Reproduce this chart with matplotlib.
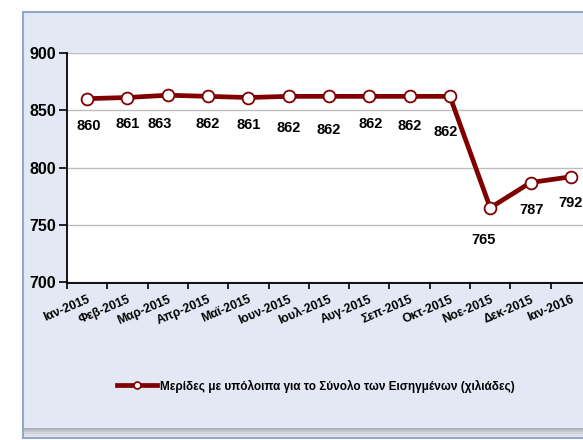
import matplotlib
matplotlib.use("Agg")
import matplotlib.pyplot as plt
from matplotlib.patches import Rectangle
from matplotlib.lines import Line2D
import numpy as np

# data
months = ['Ιαν-2015', 'Φεβ-2015', 'Μαρ-2015', 'Απρ-2015', 'Μαϊ-2015', 'Ιουν-2015',
          'Ιουλ-2015', 'Αυγ-2015', 'Σεπ-2015', 'Οκτ-2015', 'Νοε-2015', 'Δεκ-2015',
          'Ιαν-2016']
accounts = [860, 861, 863, 862, 861, 862, 862, 862, 862, 862, 765, 787, 792]
series_name = 'Μερίδες με υπόλοιπα για το Σύνολο των Εισηγμένων (χιλιάδες)'

# label nudges in points (dx, dy below marker), as placed in the original
label_nudge = [(1, 20), (0, 19), (-6, 21), (0, 20), (0, 20), (0, 23), (0, 24),
               (1, 20), (0, 21), (-3, 26), (-5, 23), (1, 20), (0, 19)]

# no Arial Narrow here, Liberation Sans bold at smaller sizes is the closest
plt.rcParams['font.family'] = ['Liberation Sans', 'DejaVu Sans']
plt.rcParams['font.weight'] = 'bold'

W, H = 583, 440
fig = plt.figure(figsize=(W / 100, H / 100), dpi=100)
fig.patch.set_facecolor('white')

def px(x, y):
    # pixel coords (top-left origin) -> figure fraction
    return x / W, 1 - y / H

# outer panel
x0, y0 = px(22.5, 438)
fig.add_artist(Rectangle((x0, y0), 1.2, (438 - 12.5) / H, transform=fig.transFigure,
                         facecolor='#E3E8F4', edgecolor='#97A7CB', lw=1.5, zorder=0))
# soft shadow along the bottom edge
for i, c in enumerate(['#DCDFE7', '#D0D3DB', '#C2C5CD', '#B0B3BB']):
    bx, by = px(24, 436 - i * 2)
    fig.add_artist(Rectangle((bx, by), 1.2, 2 / H, transform=fig.transFigure,
                             facecolor=c, edgecolor='none', zorder=0))

left, top, bottom, right = 67, 52.7, 282.5, 591
ax = fig.add_axes([left / W, 1 - bottom / H, (right - left) / W, (bottom - top) / H])
ax.set_facecolor('white')

x = np.arange(len(months))
red = '#800000'
ax.plot(x, accounts, color=red, lw=3.4, marker='o', markersize=8.5,
        markerfacecolor='white', markeredgecolor=red, markeredgewidth=1.3,
        zorder=3, clip_on=False)

for xi, v, (dx, dy) in zip(x, accounts, label_nudge):
    ax.annotate(str(v), (xi, v), xytext=(dx, -dy), textcoords='offset points',
                ha='center', va='center', fontsize=10.5, fontweight='bold')

ax.set_xlim(-0.5, len(months) - 0.5)
ax.set_ylim(700, 900)
ax.set_yticks(np.arange(700, 901, 50))
ax.yaxis.grid(True, color='#BEBEBE', lw=1)
ax.set_axisbelow(True)

for s in ['top', 'right']:
    ax.spines[s].set_visible(False)
for s in ['left', 'bottom']:
    ax.spines[s].set_color('black')
    ax.spines[s].set_linewidth(1.3)

ax.set_xticks(x)
ax.set_xticklabels(months, rotation=23, ha='right', rotation_mode='anchor',
                   fontsize=8.8, fontweight='bold')
ax.set_xticks(np.arange(-0.5, len(months)), minor=True)
ax.tick_params(axis='x', which='major', length=0, pad=8)
ax.tick_params(axis='x', which='minor', length=4, width=1.2, direction='out')
ax.tick_params(axis='y', length=6, width=1.2, pad=2, labelsize=11.5)
for t in ax.get_yticklabels():
    t.set_fontweight('bold')

handle = Line2D([], [], color=red, lw=3.4, marker='o', markersize=5,
                markerfacecolor='white', markeredgecolor=red, markeredgewidth=1.2)
lx, ly = px(316, 386)
fig.legend([handle], [series_name], loc='center', bbox_to_anchor=(lx, ly),
           frameon=False, handlelength=3.4, handletextpad=0.3,
           prop={'weight': 'bold', 'size': 8.5})

fig.savefig('out.png', dpi=100)
